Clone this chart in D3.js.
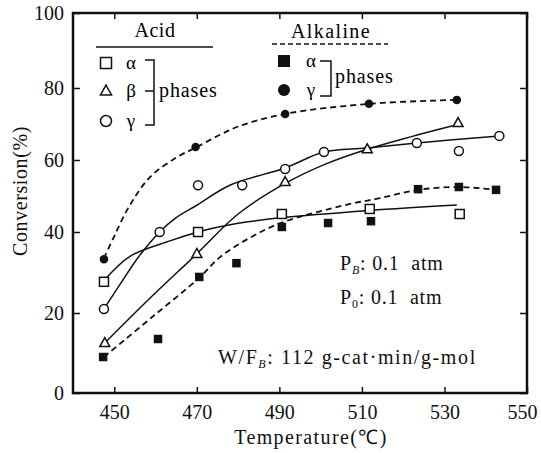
<!DOCTYPE html>
<html>
<head>
<meta charset="utf-8">
<script src="https://cdn.jsdelivr.net/npm/d3@7"></script>
<style>
  html, body { margin: 0; padding: 0; background: #fff; }
</style>
</head>
<body>
<svg id="chart" width="541" height="453"></svg>
<script>
// ---------------- data ----------------
const xTicks = [450, 470, 490, 510, 530, 550];
const yTicks = [0, 20, 40, 60, 80, 100];

// measured points: [temperature, conversion]
const acidAlpha = [[447.5, 27.7], [470.3, 40.0], [490.6, 45.0], [511.9, 46.4], [533.7, 45.0]];
const acidBeta  = [[447.7, 12.5], [470.0, 34.6], [491.4, 53.9], [511.3, 63.0], [533.3, 70.3]];
const acidGamma = [[447.5, 21.0], [461.0, 40.0], [470.3, 53.0], [481.0, 53.0], [491.4, 57.5],
                   [500.8, 62.2], [523.3, 64.7], [533.5, 62.5], [543.3, 66.7]];
const alkAlpha  = [[447.3, 9.0], [460.6, 13.5], [470.6, 28.9], [479.6, 32.3], [490.6, 41.4],
                   [501.8, 42.5], [512.2, 43.0], [523.6, 51.9], [533.5, 52.5], [542.5, 51.7]];
const alkGamma  = [[447.5, 33.3], [469.7, 63.6], [491.4, 72.8], [511.7, 75.6], [533.0, 76.7]];

// fitted trend curves as drawn in the picture
const acidAlphaFit = [[447.5, 28.0], [453.8, 34.0], [463.5, 37.8], [470.3, 40.0], [480, 42.4],
                      [490.6, 44.0], [511.9, 46.0], [533.0, 47.5]];
const acidBetaFit  = [[447.7, 12.5], [459, 24.0], [470.0, 34.6], [480, 45.0], [491.4, 53.5],
                      [501, 58.8], [511.3, 63.0], [522, 66.5], [532, 69.5]];
const acidGammaFit = [[447.5, 21.0], [452, 28.0], [456, 34.0], [461.0, 40.0], [465, 44.0],
                      [470.1, 47.5], [478, 53.0], [491.4, 57.8], [500.8, 62.2], [511, 63.3],
                      [523.3, 64.7], [543.3, 66.7]];
const alkAlphaFit  = [[447.5, 9.0], [459.2, 19.0], [470.8, 28.9], [475.6, 33.8], [482.9, 38.6],
                      [490.6, 42.6], [506.4, 47.6], [514.4, 49.4], [523.6, 51.7], [533.5, 52.5],
                      [542.5, 51.7]];
const alkGammaFit  = [[447.5, 33.5], [450, 39.0], [453.8, 47.5], [458.7, 55.3], [465.2, 60.8],
                      [470, 63.6], [475.6, 67.0], [480.5, 69.5], [491.4, 72.8], [511.7, 75.6],
                      [533.0, 76.7]];

const acidLegend = ["α", "β", "γ"];
const alkLegend = ["α", "γ"];
const phasesLabel = "phases";
const xTitle = "Temperature(℃)";
const yTitle = "Conversion(%)";

// ---------------- drawing ----------------
const FONT = "'Liberation Serif', 'Times New Roman', 'Liberation Sans', Arial, sans-serif";
const svg = d3.select("#chart").attr("font-family", FONT);
const x = d3.scaleLinear().domain([440, 550]).range([73, 527]);
const y = d3.scaleLinear().domain(yTicks).range([393, 313, 232, 160, 88, 13]);

const ink = "#111";

// fitted curves
const line = d3.line().x(d => x(d[0])).y(d => y(d[1])).curve(d3.curveCatmullRom.alpha(0.5));
function curve(data, dashed) {
  svg.append("path").attr("d", line(data)).attr("fill", "none").attr("stroke", ink)
    .attr("stroke-width", dashed ? 1.8 : 1.5)
    .attr("stroke-dasharray", dashed ? "6,4" : null);
}
curve(acidAlphaFit, false);
curve(acidBetaFit, false);
curve(acidGammaFit, false);
curve(alkAlphaFit, true);
curve(alkGammaFit, true);

// markers
function marker(g, type, cx, cy, s) {
  if (type === "sq") {
    g.append("rect").attr("x", cx - s / 2).attr("y", cy - s / 2).attr("width", s).attr("height", s)
      .attr("fill", "#fff").attr("stroke", ink).attr("stroke-width", 1.5);
  } else if (type === "fsq") {
    g.append("rect").attr("x", cx - s / 2).attr("y", cy - s / 2).attr("width", s).attr("height", s)
      .attr("fill", ink);
  } else if (type === "tri") {
    const h = s * 0.9;
    g.append("path").attr("d", `M${cx},${cy - h * 0.6}L${cx + s / 2},${cy + h * 0.4}L${cx - s / 2},${cy + h * 0.4}Z`)
      .attr("fill", "#fff").attr("stroke", ink).attr("stroke-width", 1.5);
  } else if (type === "circ") {
    g.append("circle").attr("cx", cx).attr("cy", cy).attr("r", s / 2)
      .attr("fill", "#fff").attr("stroke", ink).attr("stroke-width", 1.5);
  } else if (type === "fcirc") {
    g.append("circle").attr("cx", cx).attr("cy", cy).attr("r", s / 2).attr("fill", ink);
  }
}
const mg = svg.append("g");
[[acidAlpha, "sq", 9], [acidBeta, "tri", 10], [acidGamma, "circ", 9],
 [alkAlpha, "fsq", 8.5], [alkGamma, "fcirc", 8.5]].forEach(([data, type, s]) => {
  data.forEach(d => marker(mg, type, x(d[0]), y(d[1]), s));
});

// frame
svg.append("rect").attr("x", x(440)).attr("y", y(100)).attr("width", x(550) - x(440))
  .attr("height", y(0) - y(100)).attr("fill", "none").attr("stroke", ink).attr("stroke-width", 2.5);

// axes: ticks inward on all sides
const axB = svg.append("g").attr("transform", `translate(0,${y(0)})`)
  .call(d3.axisBottom(x).tickValues(xTicks).tickSize(-6).tickPadding(14).tickFormat(d3.format("d")));
const axT = svg.append("g").attr("transform", `translate(0,${y(100)})`)
  .call(d3.axisTop(x).tickValues(xTicks).tickSize(-6).tickFormat(""));
const axL = svg.append("g").attr("transform", `translate(${x(440)},0)`)
  .call(d3.axisLeft(y).tickValues(yTicks).tickSize(-7).tickPadding(9).tickFormat(d3.format("d")));
const axR = svg.append("g").attr("transform", `translate(${x(550)},0)`)
  .call(d3.axisRight(y).tickValues(yTicks).tickSize(-7).tickFormat(""));
[axB, axT, axL, axR].forEach(a => {
  a.attr("font-family", FONT);
  a.select(".domain").remove();
  a.selectAll(".tick line").attr("stroke", ink).attr("stroke-width", 1.5);
  a.selectAll("text").attr("font-size", 20).attr("fill", ink);
});
axB.selectAll(".tick text").attr("dy", "0.6em");
axB.selectAll(".tick text").filter(d => d === 550).attr("dx", -5);

// axis titles
svg.append("text").attr("x", 311).attr("y", 444).attr("text-anchor", "middle")
  .attr("font-size", 20).attr("letter-spacing", 1.4).attr("fill", ink).text(xTitle);
svg.append("text").attr("transform", "translate(27,191) rotate(-90)").attr("text-anchor", "middle")
  .attr("font-size", 20).attr("letter-spacing", 0.6).attr("fill", ink).text(yTitle);

// ---------- legend: Acid ----------
svg.append("text").attr("x", 155).attr("y", 37).attr("text-anchor", "middle").attr("font-size", 20)
  .attr("letter-spacing", 0.5).text("Acid");
svg.append("line").attr("x1", 96).attr("x2", 213).attr("y1", 47).attr("y2", 47).attr("stroke", ink).attr("stroke-width", 1.5);
const acidRows = [63, 91, 121];
const lg = svg.append("g");
["sq", "tri", "circ"].forEach((t, i) => marker(lg, t, 106, acidRows[i], 11));
acidLegend.forEach((s, i) => {
  svg.append("text").attr("x", 131).attr("y", acidRows[i] + 6).attr("text-anchor", "middle")
    .attr("font-size", 19).text(s);
});
svg.append("path").attr("d", "M145,60H154V125H145M145,91H154").attr("fill", "none").attr("stroke", ink).attr("stroke-width", 1.5);
svg.append("text").attr("x", 159).attr("y", 97).attr("font-size", 20).attr("letter-spacing", 0.9).text(phasesLabel);

// ---------- legend: Alkaline ----------
svg.append("text").attr("x", 331).attr("y", 38).attr("text-anchor", "middle").attr("font-size", 20)
  .attr("letter-spacing", 1.4).text("Alkaline");
svg.append("line").attr("x1", 272).attr("x2", 388).attr("y1", 44).attr("y2", 44).attr("stroke", ink)
  .attr("stroke-width", 1.5).attr("stroke-dasharray", "5,3");
const alkRows = [61, 90];
["fsq", "fcirc"].forEach((t, i) => marker(lg, t, 284, alkRows[i], 12));
alkLegend.forEach((s, i) => {
  svg.append("text").attr("x", 311).attr("y", alkRows[i] + 6).attr("text-anchor", "middle")
    .attr("font-size", 19).text(s);
});
svg.append("path").attr("d", "M320,61H331V96H320").attr("fill", "none").attr("stroke", ink).attr("stroke-width", 1.5);
svg.append("text").attr("x", 335).attr("y", 83).attr("font-size", 20).attr("letter-spacing", 0.9).text(phasesLabel);

// ---------- annotations ----------
function subText(xp, yp, main, sub, rest, italicSub, spacing) {
  const t = svg.append("text").attr("x", xp).attr("y", yp).attr("font-size", 20)
    .attr("letter-spacing", spacing).attr("fill", ink);
  t.append("tspan").text(main);
  t.append("tspan").attr("font-size", 12).attr("dy", 4).attr("font-style", italicSub ? "italic" : "normal").text(sub);
  t.append("tspan").attr("dy", -4).text(rest);
  return t;
}
subText(340, 270, "P", "B", ": 0.1\u00a0\u00a0atm", true, 0.8);
subText(340, 304, "P", "0", ": 0.1\u00a0\u00a0atm", false, 0.8);
subText(218, 364, "W/F", "B", ":\u00a0112 g-cat·min/g-mol", true, 1.6);
</script>
</body>
</html>
